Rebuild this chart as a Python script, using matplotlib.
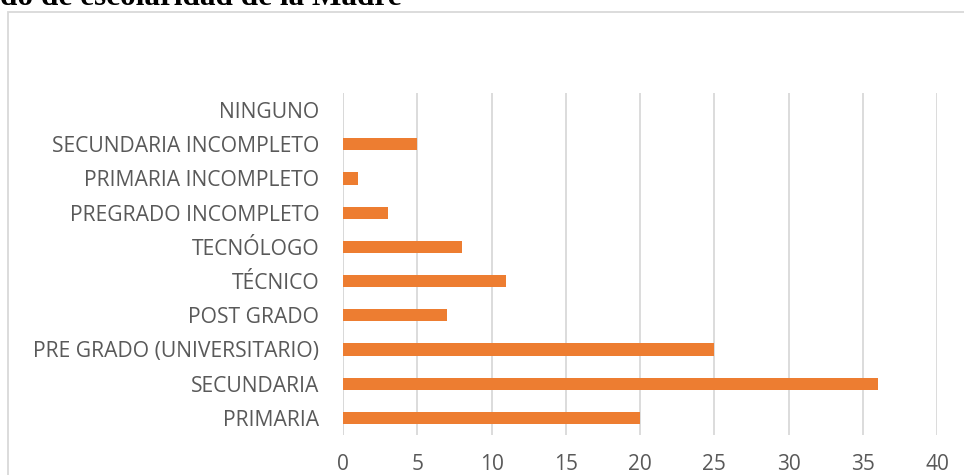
import matplotlib
matplotlib.use("Agg")
import matplotlib.pyplot as plt
from matplotlib.patches import Rectangle

categories = ["PRIMARIA", "SECUNDARIA", "PRE GRADO (UNIVERSITARIO)", "POST GRADO",
              "TÉCNICO", "TECNÓLOGO", "PREGRADO INCOMPLETO", "PRIMARIA INCOMPLETO",
              "SECUNDARIA INCOMPLETO", "NINGUNO"]
values = [20, 36, 25, 7, 11, 8, 3, 1, 5, 0]
xticks = [0, 5, 10, 15, 20, 25, 30, 35, 40]
title = "do de escolaridad de la Madre"

W, H = 964, 475
fig = plt.figure(figsize=(W / 100, H / 100), dpi=100)
fig.patch.set_facecolor("white")

# chart border (cropped at right and bottom)
fig.patches.append(Rectangle((8 / W, -0.2), 2.0, 1 - 12 / H + 0.2, transform=fig.transFigure,
                             fill=False, edgecolor="#D9D9D9", linewidth=1.3))

fig.text(0.0, 1 - 5 / H, title, fontsize=22.5, fontweight="bold",
         family=["Liberation Serif", "DejaVu Serif"], va="baseline", ha="left", color="black")

ax = fig.add_axes([343 / W, 1 - 435 / H, (937 - 343) / W, (435 - 93) / H])
y = list(range(len(categories)))
ax.barh(y, values, height=0.36, color="#ED7D31", zorder=3)
ax.set_xlim(0, 40)
ax.set_ylim(-0.5, len(categories) - 0.5)
ax.set_xticks(xticks)
ax.set_yticks(y)
ax.set_yticklabels(categories)
ax.grid(axis="x", color="#D9D9D9", linewidth=1.3, zorder=0)
for s in ax.spines.values():
    s.set_visible(False)
ax.axvline(0, color="#D9D9D9", linewidth=1.3, zorder=2)
ax.tick_params(axis="both", length=0, colors="#595959")
ax.tick_params(axis="x", pad=14, labelsize=15)
ax.tick_params(axis="y", pad=17, labelsize=15.2)
for lab in ax.get_xticklabels() + ax.get_yticklabels():
    lab.set_family(["Open Sans", "DejaVu Sans"])
    lab.set_color("#595959")

fig.savefig("out.png", dpi=100, facecolor="white")
